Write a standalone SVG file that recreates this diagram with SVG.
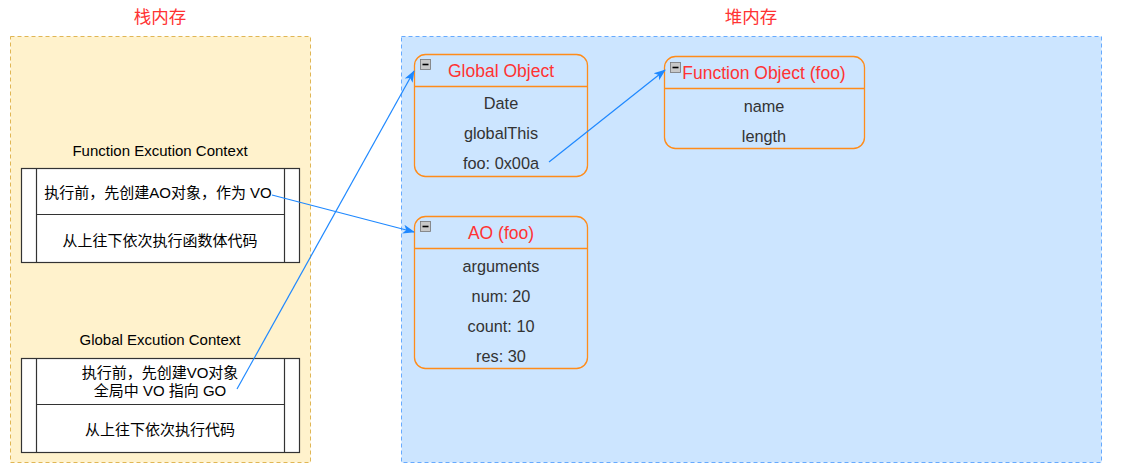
<svg xmlns="http://www.w3.org/2000/svg" width="1121" height="474" viewBox="0 0 1121 474">
<style>
.t{font-family:"Liberation Sans","Noto Sans CJK SC",Arial,sans-serif;text-anchor:middle;dominant-baseline:central}
.title{font-size:17.5px;fill:#ff3333}
.body{font-size:16.3px;fill:#333333}
.ctx{font-size:15px;fill:#000000}
.node{fill:none;stroke:#ff8c1a;stroke-width:1.3}
.icon{fill:#c8c8c8;stroke:#777;stroke-width:0.8}
.sw{fill:#ffffff;stroke:#333333;stroke-width:1.2}
.conn{stroke:#1e88ff;stroke-width:1.2;fill:none}
</style>
<defs>
<marker id="ah" markerWidth="12" markerHeight="12" refX="11" refY="6" orient="auto" markerUnits="userSpaceOnUse">
<path d="M0,1.5 L12,6 L0,10.5 L3,6 Z" fill="#1e88ff"/>
</marker>
</defs>
<rect width="1121" height="474" fill="#ffffff"/>
<g id="stack">
<rect x="10.5" y="36.5" width="300" height="426" fill="#fff2cc" stroke="#e0b654" stroke-dasharray="4 3"/>
<text class="t title" x="160" y="17">栈内存</text>
</g>
<g id="heap">
<rect x="401.5" y="36.5" width="700" height="426" fill="#cce5ff" stroke="#66aaff" stroke-dasharray="4 3"/>
<text class="t title" x="751" y="17">堆内存</text>
</g>
<g id="fec">
<text class="t ctx" x="160" y="150">Function Excution Context</text>
<rect class="sw" x="21.5" y="168.5" width="278" height="94"/>
<line x1="36.5" y1="168.5" x2="36.5" y2="262.5" stroke="#333" stroke-width="1.2"/>
<line x1="284.5" y1="168.5" x2="284.5" y2="262.5" stroke="#333" stroke-width="1.2"/>
<line x1="36.5" y1="214.5" x2="284.5" y2="214.5" stroke="#333" stroke-width="1.2"/>
<text class="t ctx" x="158" y="192">执行前，先创建AO对象，作为 VO</text>
<text class="t ctx" x="160" y="240">从上往下依次执行函数体代码</text>
</g>
<g id="gec">
<text class="t ctx" x="160" y="339">Global Excution Context</text>
<rect class="sw" x="21.5" y="358.5" width="278" height="94"/>
<line x1="36.5" y1="358.5" x2="36.5" y2="452.5" stroke="#333" stroke-width="1.2"/>
<line x1="284.5" y1="358.5" x2="284.5" y2="452.5" stroke="#333" stroke-width="1.2"/>
<line x1="36.5" y1="404.5" x2="284.5" y2="404.5" stroke="#333" stroke-width="1.2"/>
<text class="t ctx" x="160" y="372">执行前，先创建VO对象</text>
<text class="t ctx" x="160" y="390">全局中 VO 指向 GO</text>
<text class="t ctx" x="160" y="429">从上往下依次执行代码</text>
</g>
<g id="go">
<rect class="node" x="414.5" y="54.5" width="173" height="122" rx="11"/>
<line x1="414.5" y1="86.5" x2="587.5" y2="86.5" stroke="#ff8c1a" stroke-width="1.3"/>
<rect class="icon" x="420.5" y="59.5" width="10" height="10"/>
<line x1="422.5" y1="64.5" x2="428.5" y2="64.5" stroke="#000" stroke-width="1.6"/>
<text class="t title" x="501" y="71">Global Object</text>
<text class="t body" x="501" y="103">Date</text>
<text class="t body" x="501" y="133">globalThis</text>
<text class="t body" x="501" y="163">foo: 0x00a</text>
</g>
<g id="fo">
<rect class="node" x="664.5" y="56.5" width="200" height="92" rx="11"/>
<line x1="664.5" y1="88.5" x2="864.5" y2="88.5" stroke="#ff8c1a" stroke-width="1.3"/>
<rect class="icon" x="670.5" y="62.5" width="10" height="10"/>
<line x1="672.5" y1="67.5" x2="678.5" y2="67.5" stroke="#000" stroke-width="1.6"/>
<text class="t title" x="764" y="73">Function Object (foo)</text>
<text class="t body" x="764" y="106">name</text>
<text class="t body" x="764" y="136">length</text>
</g>
<g id="ao">
<rect class="node" x="414.5" y="216.5" width="173" height="152" rx="11"/>
<line x1="414.5" y1="248.5" x2="587.5" y2="248.5" stroke="#ff8c1a" stroke-width="1.3"/>
<rect class="icon" x="420.5" y="221.5" width="10" height="10"/>
<line x1="422.5" y1="226.5" x2="428.5" y2="226.5" stroke="#000" stroke-width="1.6"/>
<text class="t title" x="501" y="233">AO (foo)</text>
<text class="t body" x="501" y="266">arguments</text>
<text class="t body" x="501" y="296">num: 20</text>
<text class="t body" x="501" y="326">count: 10</text>
<text class="t body" x="501" y="356">res: 30</text>
</g>
<g id="connectors">
<path class="conn" d="M272,195 L414,232" marker-end="url(#ah)"/>
<path class="conn" d="M237,389 L414,71" marker-end="url(#ah)"/>
<path class="conn" d="M549,162 L665,70" marker-end="url(#ah)"/>
</g>
</svg>
